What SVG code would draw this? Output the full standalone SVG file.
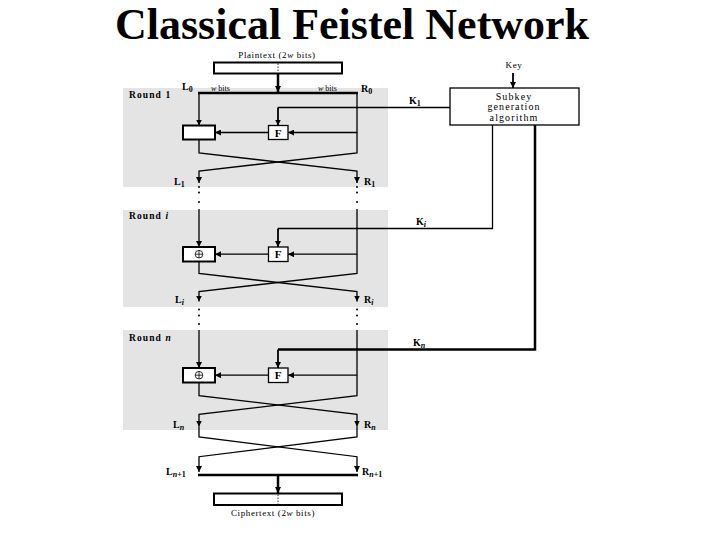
<svg xmlns="http://www.w3.org/2000/svg" width="720" height="540" viewBox="0 0 720 540">
<style>
.t{font-family:"Liberation Serif","Times New Roman",serif;fill:#000}
.lab{font-family:"Liberation Serif","Times New Roman",serif;font-weight:bold;font-size:10px;fill:#000}
.sm{font-family:"Liberation Serif","Times New Roman",serif;font-size:8px;fill:#000}
.cap{font-family:"Liberation Serif","Times New Roman",serif;font-size:9px;letter-spacing:0.6px;fill:#000}
.sk{font-family:"Liberation Serif","Times New Roman",serif;font-size:10px;letter-spacing:1.1px;fill:#000}
.rnd{font-family:"Liberation Serif","Times New Roman",serif;font-weight:bold;font-size:9.5px;letter-spacing:1.1px;fill:#000}
.gray{fill:#e4e4e4;stroke:none}
.box{fill:#fff;stroke:#000;stroke-width:2}
.fbox{fill:#fff;stroke:#000;stroke-width:1.3}
.ln{fill:none;stroke:#000;stroke-width:1.3}
.th{fill:none;stroke:#000;stroke-width:2.5}
.md{fill:none;stroke:#000;stroke-width:1.8}
.dot{fill:none;stroke:#000;stroke-width:0.8;stroke-dasharray:1.5,1.5}
.pt{fill:#000}
</style>
<defs>
<marker id="ah" viewBox="0 0 6 6" refX="6" refY="3" markerWidth="6" markerHeight="6" markerUnits="userSpaceOnUse" orient="auto">
<path d="M0,0 L6,3 L0,6 z" fill="#000"/>
</marker>
<g id="xorsym">
<circle cx="0" cy="0" r="3.8" fill="none" stroke="#000" stroke-width="0.8"/>
<path d="M-3.8,0 H3.8 M0,-3.8 V3.8" stroke="#000" stroke-width="0.8"/>
</g>
</defs>
<rect width="720" height="540" fill="#fff"/>
<text class="t" x="352" y="39" font-size="44" font-weight="bold" text-anchor="middle">Classical Feistel Network</text>

<g id="backgrounds">
<rect class="gray" x="123" y="88" width="265" height="99"/>
<rect class="gray" x="123" y="210" width="265" height="97"/>
<rect class="gray" x="123" y="330" width="265" height="100"/>
<text class="rnd" x="129" y="98">Round 1</text>
<text class="rnd" x="129" y="219">Round <tspan font-style="italic">i</tspan></text>
<text class="rnd" x="129" y="341">Round <tspan font-style="italic">n</tspan></text>
</g>

<g id="plaintext">
<rect class="box" x="214" y="62.5" width="128" height="11"/>
<line class="dot" x1="278" y1="63.5" x2="278" y2="72.5"/>
<text class="cap" x="277" y="57.5" text-anchor="middle">Plaintext (2<tspan font-style="italic">w</tspan> bits)</text>
</g>

<g id="ciphertext">
<rect class="box" x="214" y="493.5" width="128" height="11.5"/>
<line class="dot" x1="278" y1="494.5" x2="278" y2="504"/>
<text class="cap" x="273" y="516" text-anchor="middle">Ciphertext (2<tspan font-style="italic">w</tspan> bits)</text>
</g>

<g id="key">
<text class="cap" x="514" y="68" text-anchor="middle">Key</text>
</g>

<g id="subkey">
<rect class="fbox" x="450" y="88" width="129" height="37"/>
<text class="sk" x="514" y="100" text-anchor="middle">Subkey</text>
<text class="sk" x="514" y="110" text-anchor="middle">generation</text>
<text class="sk" x="514" y="121" text-anchor="middle">algorithm</text>
</g>

<g id="round1">
<rect class="box" x="183" y="125.5" width="32" height="14"/>
<rect class="fbox" x="268.5" y="125.5" width="19.5" height="14"/>
<text class="t" x="278.2" y="136.5" font-size="11" font-weight="bold" text-anchor="middle">F</text>
</g>

<g id="roundi">
<rect class="box" x="183" y="247" width="32" height="14.5"/>
<use href="#xorsym" x="199" y="254.2"/>
<rect class="fbox" x="268.5" y="247" width="19.5" height="14.5"/>
<text class="t" x="278.2" y="258.3" font-size="11" font-weight="bold" text-anchor="middle">F</text>
</g>

<g id="roundn">
<rect class="box" x="183" y="368" width="32" height="14.5"/>
<use href="#xorsym" x="199" y="375.2"/>
<rect class="fbox" x="268.5" y="368" width="19.5" height="14.5"/>
<text class="t" x="278.2" y="379.3" font-size="11" font-weight="bold" text-anchor="middle">F</text>
</g>

<g id="labels">
<text class="lab" x="182" y="90">L<tspan font-size="8" dy="2">0</tspan></text>
<text class="sm" x="211" y="91"><tspan font-style="italic">w</tspan> bits</text>
<text class="sm" x="318" y="91"><tspan font-style="italic">w</tspan> bits</text>
<text class="lab" x="361" y="92">R<tspan font-size="8" dy="2">0</tspan></text>
<text class="lab" x="174" y="185">L<tspan font-size="8" dy="2">1</tspan></text>
<text class="lab" x="364" y="185">R<tspan font-size="8" dy="2">1</tspan></text>
<text class="lab" x="175" y="303">L<tspan font-size="8" dy="2" font-style="italic">i</tspan></text>
<text class="lab" x="364" y="303">R<tspan font-size="8" dy="2" font-style="italic">i</tspan></text>
<text class="lab" x="173" y="428">L<tspan font-size="8" dy="2" font-style="italic">n</tspan></text>
<text class="lab" x="364" y="428">R<tspan font-size="8" dy="2" font-style="italic">n</tspan></text>
<text class="lab" x="166" y="475">L<tspan font-size="8" dy="2"><tspan font-style="italic">n</tspan>+1</tspan></text>
<text class="lab" x="362" y="475">R<tspan font-size="8" dy="2"><tspan font-style="italic">n</tspan>+1</tspan></text>
<text class="lab" x="409" y="104">K<tspan font-size="8" dy="2">1</tspan></text>
<text class="lab" x="416" y="225">K<tspan font-size="8" dy="2" font-style="italic">i</tspan></text>
<text class="lab" x="413" y="346">K<tspan font-size="8" dy="2" font-style="italic">n</tspan></text>
</g>

<g id="connectors">
<line class="th" x1="278" y1="74" x2="278" y2="92" marker-end="url(#ah)"/>
<line class="th" x1="198" y1="93" x2="358" y2="93"/>
<line class="md" x1="513" y1="73" x2="513" y2="88" marker-end="url(#ah)"/>
<polyline class="ln" points="199,93 199,125.5" marker-end="url(#ah)"/>
<polyline class="ln" points="357,93 357,132.5 288,132.5" marker-end="url(#ah)"/>
<line class="ln" x1="268.5" y1="132.5" x2="215" y2="132.5" marker-end="url(#ah)"/>
<polyline class="ln" points="450,107.5 278,107.5"/>
<polyline class="md" points="278,107.5 278,125.5" marker-end="url(#ah)"/>
<polyline class="ln" points="199,139.5 199,153 357,171 357,183" marker-end="url(#ah)"/>
<polyline class="ln" points="357,132.5 357,153 199,171 199,183" marker-end="url(#ah)"/>
<circle class="pt" cx="199" cy="187" r="1"/><circle class="pt" cx="199" cy="192.5" r="1"/><circle class="pt" cx="199" cy="202" r="1"/>
<circle class="pt" cx="357" cy="187" r="1"/><circle class="pt" cx="357" cy="192.5" r="1"/><circle class="pt" cx="357" cy="202" r="1"/>
<polyline class="ln" points="199,209 199,247" marker-end="url(#ah)"/>
<polyline class="ln" points="357,209 357,254.2 288,254.2" marker-end="url(#ah)"/>
<line class="ln" x1="268.5" y1="254.2" x2="215" y2="254.2" marker-end="url(#ah)"/>
<polyline class="ln" points="492.5,125 492.5,228.5 278,228.5"/>
<polyline class="md" points="278,228.5 278,247" marker-end="url(#ah)"/>
<polyline class="ln" points="199,261.5 199,273.5 357,291.5 357,301.5" marker-end="url(#ah)"/>
<polyline class="ln" points="357,254.2 357,273.5 199,291.5 199,301.5" marker-end="url(#ah)"/>
<circle class="pt" cx="199" cy="309.5" r="1"/><circle class="pt" cx="199" cy="315.5" r="1"/><circle class="pt" cx="199" cy="324" r="1"/>
<circle class="pt" cx="357" cy="309.5" r="1"/><circle class="pt" cx="357" cy="315.5" r="1"/><circle class="pt" cx="357" cy="324" r="1"/>
<polyline class="ln" points="199,330 199,368" marker-end="url(#ah)"/>
<polyline class="ln" points="357,330 357,375.2 288,375.2" marker-end="url(#ah)"/>
<line class="ln" x1="268.5" y1="375.2" x2="215" y2="375.2" marker-end="url(#ah)"/>
<polyline class="th" points="535,125 535,349.5 278,349.5"/>
<polyline class="md" points="278,349.5 278,368" marker-end="url(#ah)"/>
<polyline class="ln" points="199,382.5 199,395.7 357,414.3 357,426.5" marker-end="url(#ah)"/>
<polyline class="ln" points="357,375.2 357,395.7 199,414.3 199,426.5" marker-end="url(#ah)"/>
<polyline class="ln" points="199,426.5 199,437 357,456.7 357,472" marker-end="url(#ah)"/>
<polyline class="ln" points="357,426.5 357,437 199,456.7 199,472" marker-end="url(#ah)"/>
<line class="th" x1="198" y1="475" x2="358" y2="475"/>
<line class="th" x1="278" y1="475" x2="278" y2="493" marker-end="url(#ah)"/>
</g>
</svg>
